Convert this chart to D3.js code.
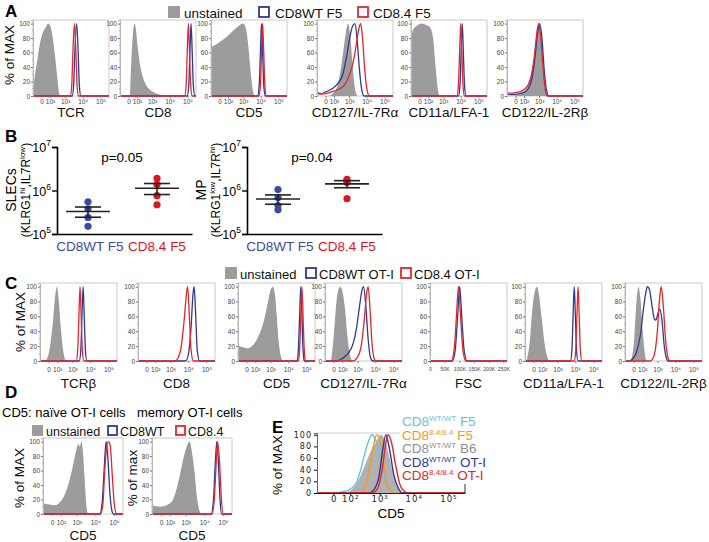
<!DOCTYPE html>
<html><head><meta charset="utf-8">
<script src="https://cdn.jsdelivr.net/npm/d3@7"></script>
<style>body{margin:0;background:#fff}</style>
</head><body><script>
// ---------------- DATA ----------------
const flowTickValues = [0, 100, 1000, 10000, 100000];
const flowTickLabels = ["0", "10²", "10³", "10⁴", "10⁵"];
const fscTickValues = [0, 50000, 100000, 150000, 200000, 250000];
const fscTickLabels = ["0", "50K", "100K", "150K", "200K", "250K"];
const pctTickValues = [0, 20, 40, 60, 80, 100];

const panelATitles = ["TCR", "CD8", "CD5", "CD127/IL-7Rα", "CD11a/LFA-1", "CD122/IL-2Rβ"];
const panelALegend = ["unstained", "CD8WT F5", "CD8.4 F5"];
const panelAUnstained = [
  [[-100,5],[-73,25],[-42,45],[-12,72],[10,88],[38,95],[68,100],[109,96],[163,80],[236,55],[333,25],[416,6],[518,0]],
  [[10,0],[22,50],[38,85],[57,100],[80,92],[109,70],[163,45],[236,30],[373,18],[640,10],[1320,5],[2668,2],[5870,0]],
  [[-100,68],[-19,72],[30,78],[125,85],[333,93],[640,98],[972,100],[1462,93],[1978,70],[2668,35],[3600,8],[4380,0]],
  [[22,0],[94,5],[185,15],[297,35],[464,65],[640,88],[877,100],[1193,80],[1617,40],[2185,10],[2946,0]],
  [[-100,80],[-62,92],[-19,97],[16,100],[68,98],[143,95],[236,80],[333,45],[464,12],[576,0]],
  [[-42,0],[22,2],[94,6],[209,15],[333,30],[464,50],[640,78],[877,98],[1077,100],[1462,70],[1978,25],[2668,3],[3256,0]]
];
const panelAWT = [
  [[2540,0],[3100,15],[3600,60],[4600,100],[5600,60],[6480,15],[7890,0]],
  [[97000,0],[118000,15],[137000,60],[159000,100],[184000,60],[213000,15],[260000,0]],
  [[6800,0],[8300,15],[9680,60],[11100,100],[12900,60],[14900,15],[18200,0]],
  [[-100,5],[-42,3],[4,6],[68,10],[209,18],[416,30],[712,55],[1077,80],[1617,97],[2185,100],[2946,75],[3965,35],[5330,8],[7150,0]],
  [[7500,0],[9200,15],[10600,60],[12300,100],[14200,60],[16500,15],[20000,0]],
  [[-100,25],[-93,3],[-42,2],[22,3],[94,5],[209,10],[373,25],[576,55],[790,85],[1077,100],[1462,80],[1978,35],[2668,8],[3600,0]]
];
const panelA84 = [
  [[1978,0],[2415,15],[2800,60],[3420,100],[4170,60],[4830,15],[5870,0]],
  [[69000,0],[84000,15],[97000,60],[112800,100],[130000,60],[151000,15],[184000,0]],
  [[7890,0],[9680,15],[11100,60],[12900,100],[14900,60],[17300,15],[21000,0]],
  [[-100,3],[-6,3],[68,6],[265,10],[518,15],[877,25],[1462,40],[2185,60],[2946,80],[3780,95],[4600,100],[5870,80],[7890,35],[10600,8],[14200,0]],
  [[6170,0],[7500,15],[8700,60],[10100,100],[11700,60],[13500,15],[16500,0]],
  [[-100,55],[-93,5],[-42,4],[4,5],[68,7],[185,14],[333,28],[518,55],[712,85],[925,100],[1193,85],[1617,45],[2185,12],[2946,0]]
];

const bCategories = ["CD8WT F5", "CD8.4 F5"];
const bTitles = ["SLECs", "MP"];
const bPValues = ["p=0.05", "p=0.04"];
const bYTicks = [1e5, 1e6, 1e7];
const bSlecWT = [550000, 380000, 240000, 150000];
const bSlec84 = [1900000, 1380000, 760000, 470000];
const bMpWT = [1050000, 690000, 450000, 360000];
const bMp84 = [1800000, 1700000, 1530000, 650000];

const panelCTitles = ["TCRβ", "CD8", "CD5", "CD127/IL-7Rα", "FSC", "CD11a/LFA-1", "CD122/IL-2Rβ"];
const panelCLegend = ["unstained", "CD8WT OT-I", "CD8.4 OT-I"];
const panelCUnstained = [
  [[-19,0],[10,20],[38,55],[68,90],[94,100],[125,85],[185,45],[265,15],[373,0]],
  [],
  [[-100,20],[-33,19],[4,17],[47,20],[125,28],[265,42],[464,60],[712,80],[972,95],[1320,100],[1789,90],[2185,65],[2946,25],[3965,5],[4830,0]],
  [[-19,0],[-1,30],[16,70],[38,95],[68,100],[109,92],[163,70],[236,35],[333,10],[464,0]],
  [],
  [[-73,0],[-33,25],[-6,75],[10,95],[26,100],[47,90],[94,55],[163,20],[236,5],[333,0]],
  [[-19,0],[4,30],[22,80],[43,100],[68,85],[109,40],[163,8],[209,0]]
];
const panelCWT = [
  [[2415,0],[2946,15],[3420,60],[3965,100],[4600,60],[5330,15],[6480,0]],
  [[7150,0],[10600,12],[14200,45],[18200,90],[21000,100],[25900,60],[31100,15],[42300,0]],
  [[31100,0],[36000,15],[42300,60],[49000,100],[56700,60],[65800,15],[76200,0]],
  [[22,0],[94,3],[209,8],[373,15],[576,25],[877,45],[1320,75],[1789,95],[2185,100],[2946,75],[3965,30],[5330,5],[7150,0]],
  [[76000,0],[86000,15],[94000,60],[101000,100],[108000,60],[116000,15],[126000,0]],
  [[5330,0],[6480,15],[7500,60],[8700,100],[10100,60],[11700,15],[14200,0]],
  [[-42,0],[-6,3],[22,12],[68,35],[125,70],[185,92],[236,100],[333,95],[464,75],[640,57],[790,55],[1077,65],[1320,70],[1789,55],[2415,20],[3256,3],[3965,0]]
];
const panelC84 = [
  [[1617,0],[1978,15],[2300,60],[2668,100],[3100,60],[3600,15],[4380,0]],
  [[1789,0],[2668,4],[3965,18],[5870,55],[7890,90],[9200,100],[11700,55],[14200,15],[19050,0]],
  [[36000,0],[42300,15],[49000,60],[56700,100],[65800,60],[76200,15],[88000,0]],
  [[518,0],[972,5],[1617,20],[2415,55],[3256,90],[3965,100],[5080,70],[6480,25],[8700,3],[10600,0]],
  [[72000,0],[82000,15],[90000,60],[97000,100],[104000,60],[112000,15],[122000,0]],
  [[8700,0],[10600,15],[12300,60],[14200,100],[16500,60],[19050,15],[23200,0]],
  [[373,0],[640,8],[972,40],[1320,85],[1617,100],[2185,70],[2946,25],[3965,4],[4830,0]]
];

const panelDSubtitles = ["CD5: naïve OT-I cells", "memory OT-I cells"];
const panelDLegend = ["unstained", "CD8WT", "CD8.4"];
const panelDYTitles = ["% of MAX", "% of max"];
const panelDUnstained = [
  [[-100,15],[-19,13],[22,12],[68,15],[143,22],[265,35],[464,55],[712,75],[972,90],[1193,97],[1462,93],[1789,100],[2185,85],[2668,50],[3256,15],[3965,0]],
  [[-100,12],[-6,10],[68,13],[185,22],[333,40],[518,60],[790,80],[1077,92],[1617,100],[2185,85],[2946,60],[3965,25],[5330,6],[7150,0]]
];
const panelDWT = [
  [[17300,0],[23200,15],[29600,60],[37800,100],[46500,80],[59700,30],[76200,5],[92700,0]],
  [[23200,0],[31100,20],[37800,65],[46500,100],[56700,70],[69000,20],[84000,0]]
];
const panelD84 = [
  [[19050,0],[25900,15],[31100,55],[37800,85],[49000,100],[62600,95],[80000,55],[102000,15],[137000,0]],
  [[25900,0],[34300,20],[42300,65],[51500,100],[66000,70],[80000,25],[102000,0]]
];

const panelEGenotypes = ["WT/WT", "8.4/8.4", "WT/WT", "WT/WT", "8.4/8.4"];
const panelEStrains = ["F5", "F5", "B6", "OT-I", "OT-I"];
const panelEF5WT = [[4,0],[38,2],[94,6],[163,15],[236,35],[333,65],[464,90],[576,100],[712,95],[877,80],[1193,45],[1617,15],[2185,3],[2946,0]];
const panelEF584 = [[209,0],[333,8],[464,35],[640,80],[830,100],[1077,85],[1320,50],[1617,20],[2185,3],[2668,0]];
const panelEB6 = [[47,0],[109,5],[209,22],[333,45],[518,70],[790,88],[1077,100],[1462,90],[1978,60],[2668,25],[3600,6],[4830,0]];
const panelEOTWT = [[464,0],[712,8],[972,30],[1250,75],[1540,100],[1978,75],[2668,30],[3600,8],[4830,0]];
const panelEOT84 = [[576,0],[877,8],[1193,40],[1540,85],[1789,100],[2300,85],[2946,50],[3965,15],[5330,3],[7150,0]];

// ---------------- DRAWING ----------------
const FONT = '"Liberation Sans", Arial, Helvetica, sans-serif';
const WIDEFONT = '"DejaVu Sans", Verdana, sans-serif';
const BLUE = "#2f3a94", RED = "#e4262c", GRAY = "#9c9c9c";
const DOTBLUE = "#3d4aa0", DOTRED = "#e0161d";
const E_COLORS = ["#62c3e4", "#f39a22", "#8f8f8f", "#2f3a94", "#e4262c"];

const svg = d3.select("body").append("svg").attr("width", 709).attr("height", 542)
  .style("display", "block").attr("font-family", FONT);

let clipN = 0;
function flowScale(x0, w) { return d3.scaleSymlog().constant(50).domain([-100, 300000]).range([x0, x0 + w]); }
function fscScale(x0, w) { return d3.scaleLinear().domain([0, 262144]).range([x0, x0 + w]); }

function histPlot(o) {
  const top = o.bottom - o.h;
  const g = svg.append("g");
  const x = o.scale;
  const y = d3.scaleLinear().domain([0, 105]).range([o.bottom, top]);
  const dom = x.domain();
  const cid = "clip" + (clipN++);
  g.append("clipPath").attr("id", cid).append("rect")
    .attr("x", o.x0).attr("y", top).attr("width", o.w).attr("height", o.h + 2);
  g.append("rect").attr("x", o.x0).attr("y", top).attr("width", o.w).attr("height", o.h)
    .attr("fill", "none").attr("stroke", "#c9c9c9").attr("stroke-width", 1);
  const cg = g.append("g").attr("clip-path", `url(#${cid})`);
  const pad = d => { const a = d.slice(); if (a[0][0] > dom[0]) a.unshift([dom[0], 0]); if (a[a.length - 1][0] < dom[1]) a.push([dom[1], 0]); return a; };
  if (o.gray && o.gray.length) {
    const area = d3.area().x(d => x(d[0])).y0(y(0)).y1(d => y(d[1])).curve(d3.curveMonotoneX);
    cg.append("path").attr("d", area(o.gray)).attr("fill", GRAY);
  }
  const line = d3.line().x(d => x(d[0])).y(d => y(d[1])).curve(d3.curveMonotoneX);
  [[o.blue, BLUE], [o.red, RED]].forEach(([d, c]) => {
    if (d && d.length) cg.append("path").attr("d", line(pad(d))).attr("fill", "none")
      .attr("stroke", c).attr("stroke-width", 1.3);
  });
  const ya = g.append("g").attr("transform", `translate(${o.x0},0)`)
    .call(d3.axisLeft(y).tickValues(pctTickValues).tickSize(2).tickPadding(1));
  ya.select(".domain").attr("stroke", "#b5b5b5");
  ya.selectAll(".tick line").attr("stroke", "#777");
  ya.selectAll("text").attr("font-size", 6.5).attr("fill", "#444").attr("font-family", FONT);
  [10, 30, 50, 70, 90].forEach(v => g.append("line").attr("x1", o.x0 - 1).attr("x2", o.x0)
    .attr("y1", y(v)).attr("y2", y(v)).attr("stroke", "#999").attr("stroke-width", 0.6));
  const xa = g.append("g").attr("transform", `translate(0,${o.bottom})`)
    .call(d3.axisBottom(x).tickValues(o.ticks).tickFormat((d, i) => o.labels[i]).tickSize(2).tickPadding(o.tickPad));
  xa.select(".domain").remove();
  xa.selectAll(".tick line").attr("stroke", "#777");
  xa.selectAll("text").attr("font-size", o.tickFont || 6.5).attr("fill", "#444").attr("font-family", FONT);
  g.append("text").attr("x", o.x0 + o.w / 2).attr("y", o.titleY).attr("text-anchor", "middle")
    .attr("font-size", 13.5).attr("fill", "#111").text(o.title);
}

function legend(items, y, size, fs) {
  const colors = [GRAY, BLUE, RED];
  items.forEach((it, i) => {
    if (i === 0) svg.append("rect").attr("x", it.x).attr("y", y - size).attr("width", size).attr("height", size).attr("fill", GRAY);
    else svg.append("rect").attr("x", it.x + 1).attr("y", y - size + 1).attr("width", size - 2).attr("height", size - 2)
      .attr("fill", "none").attr("stroke", colors[i]).attr("stroke-width", 1.8);
    svg.append("text").attr("x", it.tx).attr("y", y).attr("font-size", fs || 13.5).attr("fill", "#111").text(it.label);
  });
}
function rotText(x, y, txt, size) {
  svg.append("text").attr("transform", `translate(${x},${y}) rotate(-90)`).attr("text-anchor", "middle")
    .attr("font-size", size || 13.5).attr("fill", "#111").text(txt);
}
function panelLetter(l, x, y) {
  svg.append("text").attr("x", x).attr("y", y).attr("font-size", 17).attr("font-weight", "bold").attr("fill", "#000").text(l);
}

// ---- Panel A ----
panelLetter("A", 5, 17);
legend([{x: 168, tx: 184, label: panelALegend[0]}, {x: 258, tx: 275, label: panelALegend[1]}, {x: 357, tx: 373, label: panelALegend[2]}], 18, 12);
rotText(14, 55, "% of MAX");
const aLefts = [33, 120, 211, 317, 411, 507];
panelATitles.forEach((t, i) => histPlot({
  x0: aLefts[i], w: 76, bottom: 96, h: 76, scale: flowScale(aLefts[i], 76),
  gray: panelAUnstained[i], blue: panelAWT[i], red: panelA84[i],
  ticks: flowTickValues, labels: flowTickLabels, tickPad: 1, title: t, titleY: 117
}));

// ---- Panel B ----
panelLetter("B", 5, 142);
function dotPlot(axisX, wt, mut, pLabel, title1, sup1, sup2) {
  const y = d3.scaleLog().domain([1e5, 1e7]).range([234, 147]);
  const x = d3.scalePoint().domain(bCategories).range([axisX + 31, axisX + 100]);
  const g = svg.append("g");
  const ya = g.append("g").attr("transform", `translate(${axisX},0)`)
    .call(d3.axisLeft(y).tickValues(bYTicks).tickFormat("").tickSize(5));
  ya.select(".domain").attr("stroke", "#000").attr("stroke-width", 1.6);
  ya.selectAll(".tick line").attr("stroke", "#000").attr("stroke-width", 1.4);
  bYTicks.forEach(v => {
    const t = g.append("text").attr("x", axisX - 6).attr("y", y(v) + 5).attr("text-anchor", "end").attr("font-size", 12.5);
    t.append("tspan").text("10");
    t.append("tspan").attr("dy", -6).attr("font-size", 8.5).text(String(Math.round(Math.log10(v))));
  });
  const xa = g.append("g").attr("transform", `translate(0,234)`)
    .call(d3.axisBottom(d3.scaleLinear().domain([0, 1]).range([axisX, axisX + 135])).tickValues([]).tickSizeOuter(0));
  xa.select(".domain").attr("stroke", "#000").attr("stroke-width", 1.6);
  [[wt, DOTBLUE, bCategories[0]], [mut, DOTRED, bCategories[1]]].forEach(([vals, c, cat]) => {
    const cx = x(cat);
    const m = d3.mean(vals), sem = d3.deviation(vals) / Math.sqrt(vals.length);
    g.selectAll(null).data(vals).enter().append("circle").attr("cx", cx).attr("cy", d => y(d)).attr("r", 3.6).attr("fill", c);
    g.append("line").attr("x1", cx - 22).attr("x2", cx + 22).attr("y1", y(m)).attr("y2", y(m)).attr("stroke", "#222").attr("stroke-width", 1.6);
    [m + sem, m - sem].forEach(v => g.append("line").attr("x1", cx - 13).attr("x2", cx + 13).attr("y1", y(v)).attr("y2", y(v)).attr("stroke", "#222").attr("stroke-width", 1.6));
    g.append("line").attr("x1", cx).attr("x2", cx).attr("y1", y(m + sem)).attr("y2", y(m - sem)).attr("stroke", "#222").attr("stroke-width", 1.6);
    g.append("text").attr("x", cx + (c === DOTBLUE ? 2 : 0)).attr("y", 251).attr("text-anchor", "middle").attr("font-size", 13.5).attr("fill", c).text(cat);
  });
  g.append("text").attr("x", axisX + 65).attr("y", 162).attr("text-anchor", "middle").attr("font-size", 13.5).text(pLabel);
  // y titles
  g.append("text").attr("transform", `translate(${axisX - 41},190) rotate(-90)`).attr("text-anchor", "middle").attr("font-size", 14).text(title1);
  const t2 = g.append("text").attr("transform", `translate(${axisX - 27},190) rotate(-90)`).attr("text-anchor", "middle").attr("font-size", 12);
  t2.append("tspan").text("(KLRG1");
  t2.append("tspan").attr("dy", -5).attr("font-size", 8).text(sup1);
  t2.append("tspan").attr("dy", 5).text(",IL7R");
  t2.append("tspan").attr("dy", -5).attr("font-size", 8).text(sup2);
  t2.append("tspan").attr("dy", 5).text(")");
}
dotPlot(57, bSlecWT, bSlec84, bPValues[0], bTitles[0], "hi", "low");
dotPlot(247, bMpWT, bMp84, bPValues[1], bTitles[1], "low", "hi");

// ---- Panel C ----
panelLetter("C", 5, 289);
legend([{x: 225, tx: 240, label: panelCLegend[0]}, {x: 305, tx: 319, label: panelCLegend[1]}, {x: 400, tx: 414, label: panelCLegend[2]}], 279, 12, 13);
rotText(25, 322, "% of MAX");
const cLefts = [40, 138, 238, 325, 430, 525, 625];
panelCTitles.forEach((t, i) => {
  const fsc = t === "FSC";
  histPlot({
    x0: cLefts[i], w: 77, bottom: 361, h: 78, scale: fsc ? fscScale(cLefts[i], 77) : flowScale(cLefts[i], 77),
    gray: panelCUnstained[i], blue: panelCWT[i], red: panelC84[i],
    ticks: fsc ? fscTickValues : flowTickValues, labels: fsc ? fscTickLabels : flowTickLabels,
    tickFont: fsc ? 5.2 : 6.5, tickPad: 4, title: t, titleY: 388
  });
});

// ---- Panel D ----
panelLetter("D", 5, 398);
svg.append("text").attr("x", 2).attr("y", 417).attr("font-size", 13).text(panelDSubtitles[0]);
svg.append("text").attr("x", 137).attr("y", 417).attr("font-size", 13).text(panelDSubtitles[1]);
legend([{x: 32, tx: 46, label: panelDLegend[0]}, {x: 107, tx: 120, label: panelDLegend[1]}, {x: 175, tx: 188, label: panelDLegend[2]}], 436, 11, 12.5);
const dLefts = [43, 152];
[0, 1].forEach(i => {
  rotText(i === 0 ? 24 : 137, 478, panelDYTitles[i]);
  histPlot({
    x0: dLefts[i], w: 80, bottom: 514, h: 76, scale: flowScale(dLefts[i], 80),
    gray: panelDUnstained[i], blue: panelDWT[i], red: panelD84[i],
    ticks: flowTickValues, labels: flowTickLabels, tickPad: 4, title: "CD5", titleY: 540
  });
});

// ---- Panel E ----
panelLetter("E", 272, 433);
rotText(282, 465, "% of MAX");
(function () {
  const x = flowScale(317, 148);
  const y = d3.scaleLinear().domain([0, 103]).range([493, 433]);
  const dom = x.domain();
  const g = svg.append("g");
  g.append("line").attr("x1", 317).attr("x2", 400).attr("y1", 433).attr("y2", 433).attr("stroke", "#cfcfcf");
  const area = d3.area().x(d => x(d[0])).y0(y(0)).y1(d => y(d[1])).curve(d3.curveMonotoneX);
  g.append("path").attr("d", area(panelEB6)).attr("fill", "#a9a9a9").attr("opacity", 0.9);
  const line = d3.line().x(d => x(d[0])).y(d => y(d[1])).curve(d3.curveMonotoneX);
  const pad = d => [[dom[0], 0], ...d, [dom[1], 0]];
  [[panelEF5WT, E_COLORS[0]], [panelEF584, E_COLORS[1]], [panelEOTWT, E_COLORS[3]], [panelEOT84, E_COLORS[4]]].forEach(([d, c]) =>
    g.append("path").attr("d", line(pad(d))).attr("fill", "none").attr("stroke", c).attr("stroke-width", 1.4));
  const ya = g.append("g").attr("transform", "translate(317,0)")
    .call(d3.axisLeft(y).tickValues(pctTickValues).tickSize(3).tickPadding(2));
  ya.select(".domain").attr("stroke", "#666");
  ya.selectAll("text").attr("font-family", WIDEFONT).attr("font-size", 8).attr("letter-spacing", 1).attr("fill", "#222");
  const xa = g.append("g").attr("transform", "translate(0,493)")
    .call(d3.axisBottom(x).tickValues(flowTickValues).tickFormat((d, i) => flowTickLabels[i]).tickSize(2).tickPadding(1).tickSizeOuter(0));
  xa.select(".domain").attr("stroke", "#222");
  xa.selectAll("text").attr("font-family", WIDEFONT).attr("font-size", 8.5).attr("letter-spacing", 1).attr("fill", "#222");
  g.append("line").attr("x1", 465).attr("x2", 465).attr("y1", 484).attr("y2", 493).attr("stroke", "#333");
  g.append("text").attr("x", 391).attr("y", 518).attr("text-anchor", "middle").attr("font-size", 13.5).text("CD5");
  const ly = [426, 439.5, 453, 466.5, 480];
  panelEGenotypes.forEach((gt, i) => {
    const t = g.append("text").attr("x", 402).attr("y", ly[i]).attr("font-size", 13.5).attr("fill", E_COLORS[i]);
    t.append("tspan").text("CD8");
    t.append("tspan").attr("dy", -5).attr("font-size", 8).text(gt);
    t.append("tspan").attr("dy", 5).text(" " + panelEStrains[i]);
  });
})();
</script></body></html>
